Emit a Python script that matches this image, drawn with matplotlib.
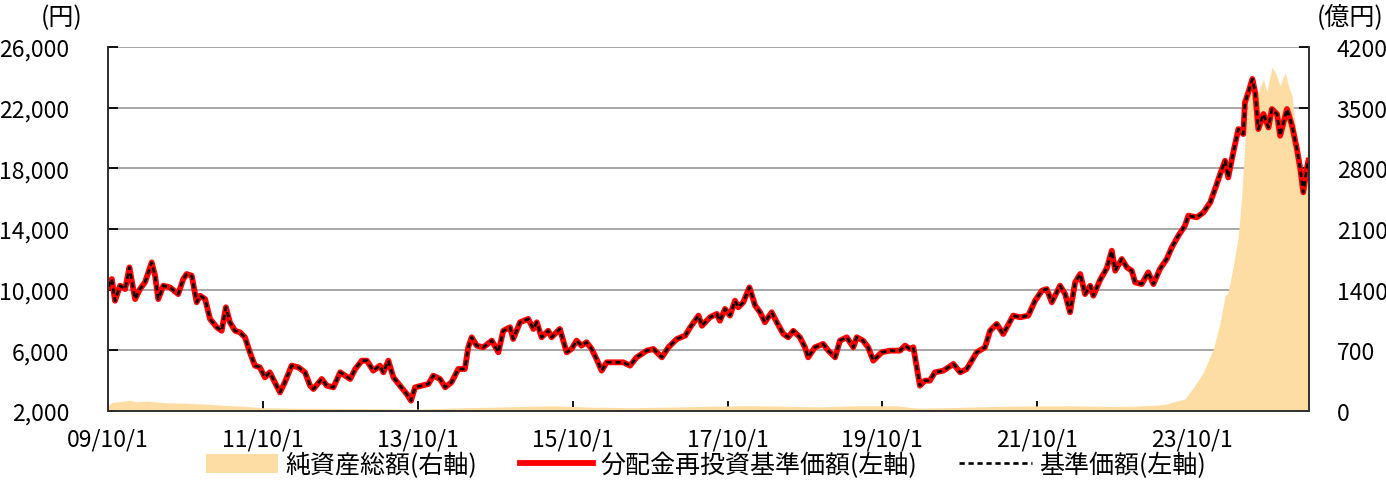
import matplotlib
matplotlib.use("Agg")
import matplotlib.pyplot as plt
import matplotlib.dates as mdates
import numpy as np
import pandas as pd

plt.rcParams['font.family'] = ['Noto Sans CJK JP', 'DejaVu Sans']

# 分配金再投資基準価額 / 基準価額 (円)
price_dates = [
    "2009-10-01", "2009-10-19", "2009-11-03", "2009-11-27", "2009-12-21", "2010-01-10", "2010-01-21",
    "2010-02-06", "2010-03-01", "2010-03-25", "2010-04-25", "2010-05-11", "2010-05-26", "2010-06-19",
    "2010-07-20", "2010-08-28", "2010-09-21", "2010-10-07", "2010-10-31", "2010-11-23", "2010-12-09",
    "2011-01-02", "2011-01-25", "2011-02-26", "2011-03-21", "2011-04-10", "2011-04-29", "2011-05-23",
    "2011-06-15", "2011-07-09", "2011-08-01", "2011-08-25", "2011-09-17", "2011-10-11", "2011-11-03",
    "2011-11-27", "2011-12-21", "2012-01-13", "2012-02-14", "2012-03-17", "2012-04-17", "2012-05-11",
    "2012-05-27", "2012-07-05", "2012-07-29", "2012-08-29", "2012-09-30", "2012-11-16", "2012-12-10",
    "2013-01-10", "2013-02-03", "2013-03-05", "2013-04-05", "2013-04-22", "2013-05-15", "2013-06-08",
    "2013-07-09", "2013-08-10", "2013-08-30", "2013-09-18", "2013-10-19", "2013-11-20", "2013-12-13",
    "2014-01-14", "2014-02-07", "2014-03-09", "2014-04-10", "2014-05-11", "2014-05-27", "2014-06-12",
    "2014-07-06", "2014-08-06", "2014-09-15", "2014-10-16", "2014-11-08", "2014-12-10", "2014-12-25",
    "2015-01-26", "2015-03-06", "2015-03-30", "2015-04-15", "2015-05-08", "2015-06-08", "2015-06-24",
    "2015-08-02", "2015-09-03", "2015-09-26", "2015-10-20", "2015-11-12", "2015-12-06", "2015-12-30",
    "2016-01-22", "2016-02-15", "2016-03-10", "2016-04-18", "2016-05-27", "2016-06-28", "2016-07-29",
    "2016-09-15", "2016-10-16", "2016-11-25", "2016-12-26", "2017-02-04", "2017-03-15", "2017-04-08",
    "2017-05-17", "2017-06-02", "2017-07-10", "2017-08-11", "2017-08-26", "2017-09-19", "2017-10-12",
    "2017-11-05", "2017-11-21", "2017-12-14", "2018-01-12", "2018-02-08", "2018-03-03", "2018-03-26",
    "2018-04-27", "2018-05-21", "2018-06-21", "2018-07-14", "2018-08-07", "2018-09-07", "2018-10-01",
    "2018-10-16", "2018-11-17", "2018-12-26", "2019-01-19", "2019-02-20", "2019-03-15", "2019-04-16",
    "2019-05-17", "2019-06-02", "2019-07-02", "2019-07-26", "2019-08-19", "2019-09-28", "2019-11-06",
    "2019-12-23", "2020-01-16", "2020-02-08", "2020-02-24", "2020-03-26", "2020-04-19", "2020-05-12",
    "2020-06-05", "2020-07-15", "2020-08-31", "2020-10-02", "2020-11-02", "2020-12-19", "2021-01-27",
    "2021-02-20", "2021-03-23", "2021-04-23", "2021-06-09", "2021-07-11", "2021-08-19", "2021-09-20",
    "2021-10-22", "2021-11-14", "2021-12-08", "2022-01-16", "2022-02-09", "2022-03-04", "2022-03-28",
    "2022-04-21", "2022-05-14", "2022-06-07", "2022-06-22", "2022-07-24", "2022-08-24", "2022-09-17",
    "2022-10-03", "2022-11-03", "2022-11-27", "2022-12-20", "2023-01-05", "2023-02-05", "2023-03-08",
    "2023-04-01", "2023-05-02", "2023-06-03", "2023-06-27", "2023-07-28", "2023-08-28", "2023-09-13",
    "2023-10-23", "2023-11-23", "2023-12-25", "2024-01-17", "2024-02-10", "2024-03-04", "2024-03-19",
    "2024-04-12", "2024-05-06", "2024-05-29", "2024-06-06", "2024-06-22", "2024-07-11", "2024-07-24",
    "2024-08-08", "2024-09-01", "2024-09-25", "2024-10-11", "2024-11-04", "2024-11-19", "2024-12-21",
    "2025-01-14", "2025-02-06", "2025-02-22", "2025-03-08", "2025-03-24", "2025-04-01",
]
price_values = [
    10200, 10700, 9270, 10260, 10040, 11470, 10590,
    9380, 10040, 10500, 11800, 10920, 9380, 10260,
    10150, 9710, 10700, 11030, 10920, 9170, 9600,
    9380, 8070, 7520, 7290, 8840, 7850, 7290,
    7190, 6860, 5870, 4990, 4880, 4220, 4550,
    3890, 3230, 3890, 4990, 4880, 4550, 3670,
    3450, 4110, 3670, 3560, 4550, 4110, 4770,
    5320, 5320, 4660, 4990, 4550, 5320, 4220,
    3670, 3120, 2680, 3560, 3670, 3780, 4330,
    4110, 3560, 3890, 4770, 4770, 6200, 6860,
    6310, 6200, 6640, 5870, 7290, 7520, 6750,
    7850, 8070, 7410, 7850, 6860, 7290, 6860,
    7410, 5870, 6090, 6640, 6310, 6530, 6090,
    5430, 4660, 5210, 5210, 5210, 4990, 5540,
    5980, 6090, 5540, 6200, 6750, 6970, 7520,
    8290, 7620, 8180, 8400, 7950, 8730, 8290,
    9270, 8840, 9170, 10150, 8950, 8510, 7850,
    8510, 7850, 7080, 6860, 7290, 6860, 6200,
    5540, 6200, 6420, 5980, 5540, 6640, 6860,
    6200, 6860, 6640, 6200, 5320, 5870, 5980,
    5980, 6310, 6090, 6200, 3670, 4000, 4000,
    4550, 4660, 5100, 4550, 4770, 5870, 6200,
    7290, 7740, 7080, 8290, 8180, 8290, 9270,
    9930, 10040, 9170, 10260, 9710, 8510, 10480,
    11030, 9710, 10260, 9600, 10650, 11400, 12570,
    11250, 12020, 11470, 11250, 10480, 10370, 11140,
    10370, 11360, 12020, 12790, 13560, 14220, 14880,
    14770, 15090, 15750, 16640, 17620, 18500, 17400,
    19060, 20590, 20260, 22350, 23010, 23890, 23010,
    20590, 21580, 20700, 21910, 21580, 20150, 21910,
    20810, 19270, 17950, 16420, 17950, 18500,
]

# 純資産総額 (億円)
nav_dates = [
    "2009-10-01", "2009-10-20", "2009-12-01", "2010-01-10", "2010-02-15", "2010-04-01", "2010-07-01",
    "2010-10-01", "2011-01-01", "2011-04-10", "2011-07-01", "2011-10-01", "2012-03-01", "2012-08-01",
    "2013-01-01", "2013-06-01", "2013-10-01", "2014-04-01", "2014-10-01", "2015-04-01", "2015-07-01",
    "2016-01-01", "2016-07-01", "2017-01-01", "2017-07-01", "2018-01-01", "2018-07-01", "2018-12-01",
    "2019-06-01", "2019-12-01", "2020-03-25", "2020-09-01", "2021-03-01", "2021-09-01", "2022-03-01",
    "2022-09-01", "2023-01-01", "2023-05-01", "2023-06-03", "2023-07-12", "2023-08-28", "2023-10-13",
    "2023-11-23", "2024-01-09", "2024-02-10", "2024-03-04", "2024-03-19", "2024-04-12", "2024-05-06",
    "2024-05-22", "2024-06-06", "2024-06-22", "2024-07-16", "2024-08-08", "2024-09-01", "2024-09-17",
    "2024-10-11", "2024-10-27", "2024-11-19", "2024-12-12", "2024-12-28", "2025-01-14", "2025-01-29",
    "2025-02-22", "2025-03-08", "2025-03-24", "2025-04-01",
]
nav_values = [
    60, 100, 110, 125, 105, 115, 95,
    90, 80, 65, 55, 38, 32, 30,
    28, 25, 22, 35, 45, 55, 60,
    45, 38, 45, 55, 62, 55, 48,
    60, 60, 32, 40, 52, 58, 60,
    52, 55, 70, 81, 110, 138, 292,
    447, 715, 1023, 1330, 1370, 1677, 2023,
    2485, 3100, 3600, 3716, 3680, 3831, 3680,
    3966, 3908, 3754, 3908, 3754, 3639, 3293,
    2908, 2639, 2946, 3216,
]

left_ticks = [2000, 6000, 10000, 14000, 18000, 22000, 26000]
right_ticks = [0, 700, 1400, 2100, 2800, 3500, 4200]
x_tick_dates = ["2009-10-01", "2011-10-01", "2013-10-01", "2015-10-01",
                "2017-10-01", "2019-10-01", "2021-10-01", "2023-10-01"]
x_tick_labels = ["09/10/1", "11/10/1", "13/10/1", "15/10/1",
                 "17/10/1", "19/10/1", "21/10/1", "23/10/1"]
x_start, x_end = "2009-10-01", "2025-04-04"

legend_labels = ["純資産総額(右軸)", "分配金再投資基準価額(左軸)", "基準価額(左軸)"]

pd_price = pd.to_datetime(price_dates)
pd_nav = pd.to_datetime(nav_dates)

fig = plt.figure(figsize=(13.86, 4.81), dpi=100)
ax2 = fig.add_axes([108/1386, 1-412/481, (1309-108)/1386, (412-48)/481])
ax = ax2.twinx()
# ax2 holds area and grid (background), ax holds lines (foreground)
ax.set_zorder(ax2.get_zorder() + 1)
ax.patch.set_visible(False)

area = ax2.fill_between(pd_nav, 0, nav_values, color='#FEDDA4', linewidth=0, zorder=2,
                        label=legend_labels[0])
ax2.set_ylim(0, 4200)
ax2.set_yticks(right_ticks)
ax2.set_axisbelow(True)
ax2.grid(axis='y', color='#A0A0A0', linewidth=1.3, zorder=0)
ax2.yaxis.tick_right()
ax2.yaxis.set_label_position('right')

l1, = ax.plot(pd_price, price_values, color='#FF0000', linewidth=4.2, solid_joinstyle='round',
              label=legend_labels[1])
l2, = ax.plot(pd_price, price_values, color='black', linewidth=1.9, linestyle=(0, (2, 1.4)),
              label=legend_labels[2])
ax.set_ylim(2000, 26000)
ax.set_yticks(left_ticks)
ax.yaxis.tick_left()
ax.yaxis.set_label_position('left')
ax.set_yticklabels([f"{v:,}" for v in left_ticks])

ax2.set_xlim(pd.Timestamp(x_start), pd.Timestamp(x_end))
ax2.set_xticks(pd.to_datetime(x_tick_dates))
ax2.set_xticklabels(x_tick_labels)

for a in (ax, ax2):
    a.spines['top'].set_visible(False)
    for s in ('left', 'right', 'bottom'):
        a.spines[s].set_color('#333333')
        a.spines[s].set_linewidth(1.3)

ax.tick_params(axis='y', direction='in', length=7, width=1.3, labelsize=16.5, pad=28, colors='black')
ax.tick_params(axis='x', bottom=False, labelbottom=False)
ax2.tick_params(axis='y', direction='in', length=7, width=1.3, labelsize=16.5, pad=20, colors='black')
ax2.tick_params(axis='x', direction='in', length=7, width=1.3, labelsize=16.5, pad=12, colors='black')

fig.text(62/1386, 1-18/481, "(円)", fontsize=18, ha='center', va='center')
fig.text(1350/1386, 1-18/481, "(億円)", fontsize=18, ha='center', va='center')

fig.legend([area, l1, l2], legend_labels, loc='center', bbox_to_anchor=(706/1386, 1-466/481),
           ncol=3, frameon=False, fontsize=18, handlelength=2.9, handleheight=0.8,
           handletextpad=0.3, columnspacing=1.7, borderaxespad=0)

fig.savefig("out.png", dpi=100)
